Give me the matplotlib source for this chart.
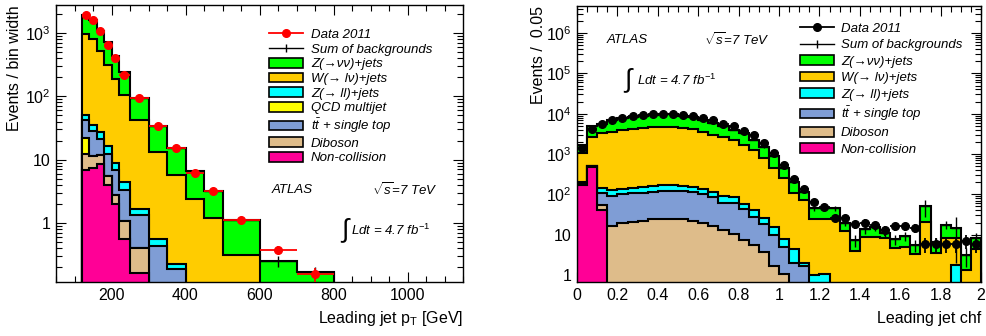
import numpy as np
import matplotlib
matplotlib.use('Agg')
import matplotlib.pyplot as plt
from matplotlib.patches import Patch
from matplotlib.lines import Line2D
from matplotlib.ticker import FuncFormatter, LogLocator, MultipleLocator, NullFormatter

plt.rcParams['font.family'] = ['Liberation Sans', 'DejaVu Sans']
plt.rcParams['mathtext.fontset'] = 'custom'
plt.rcParams['mathtext.rm'] = 'Liberation Sans'
plt.rcParams['mathtext.it'] = 'Liberation Sans:italic'
plt.rcParams['mathtext.sf'] = 'Liberation Sans'

# ---------------- left panel: leading jet pT (events / bin width) ----------------
pt_edges = [120, 140, 160, 180, 200, 220, 250, 300, 350, 400, 450, 500, 600, 700, 800]
pt_noncoll = [6.95, 7.4, 8.55, 4.0, 2.0, 0.55, 0.16, 0, 0, 0, 0, 0, 0, 0]
pt_diboson = [5.35, 3.9, 3.35, 1.5, 0.8, 0.51, 0.24, 0, 0, 0, 0, 0, 0, 0]
pt_qcd = [9.7, 0.3, 0.1, 0, 0, 0, 0, 0, 0, 0, 0, 0, 0, 0]
pt_ttbar = [20.8, 17.1, 9.5, 6.9, 4.0, 2.22, 0.95, 0.44, 0.19, 0.02, 0, 0, 0, 0]
pt_zll = [8.6, 7.0, 5.5, 3.8, 2.1, 1.12, 0.31, 0.12, 0.035, 0, 0, 0, 0, 0]
pt_wlnu = [914, 769, 499, 296, 181, 101.6, 41.3, 12.8, 5.6, 2.34, 1.2, 0.316, 0.05, 0.02]
pt_znn = [985, 815, 562, 410, 248, 134, 52, 20.2, 9.2, 4.16, 1.96, 0.78, 0.2, 0.15]
pt_bkg_err = [20, 18, 14, 11, 8, 5, 2, 1, 0.6, 0.3, 0.2, 0.08, 0.05, 0.03]
pt_data = [1900, 1585, 1063, 655, 403, 220, 93, 33.6, 15.1, 6.15, 3.16, 1.1, 0.38, 0.158]
pt_data_err = [10, 9, 7, 6, 4.5, 2.7, 1.4, 0.8, 0.55, 0.35, 0.25, 0.1, 0.06, 0.04]

# ---------------- right panel: leading jet chf (events / 0.05) ----------------
chf_edges = np.round(np.arange(0, 2.0001, 0.05), 2)
chf_noncoll = [172, 490, 41] + [0] * 37
chf_diboson = [6, 5, 14, 16.8, 19.2, 21, 22.4, 24, 24, 24.5, 24.6, 22.4, 19.2, 16.5, 13.1,
               10.2, 7.4, 5.6, 3.8, 1.7, 1.06] + [0] * 19
chf_ttbar = [17, 8, 52, 76, 81, 86, 88, 93, 98, 99.5, 99.4, 94.6, 83.8, 71.5, 49.5, 49.8,
             35.4, 22.4, 14.7, 8.1, 3.94, 1.95, 1.7] + [0] * 17
chf_zll = [10, 7, 35, 36, 34, 40, 46, 45, 48, 48, 38, 33, 31, 29, 29.4, 25, 15.2, 12, 7,
           6.1, 2.7, 2.4, 0.25, 1.0, 1.06] + [0] * 12 + [1.77, 0, 0]
chf_wlnu = [845, 2120, 3158, 3361, 3736, 4023, 4224, 4408, 4400, 4398, 4218, 4020, 3316,
            2883, 2538, 2165, 1642, 1190, 764, 429, 243, 106.6, 71, 23, 22.9, 24, 12, 4.0,
            9.0, 8.7, 8.2, 4.6, 5.0, 3.3, 21, 3.6, 8.2, 6.7, 1.3, 4.4]
chf_znn = [580, 2250, 2340, 3310, 3930, 4100, 4520, 4830, 5030, 5030, 4620, 4030, 3550,
           2900, 2270, 1750, 1600, 1020, 690, 425, 194, 97, 44, 21, 21, 21, 8, 3.4, 4.5,
           7.2, 2.6, 3.1, 4.3, 2.3, 29, 2.9, 9.3, 6.0, 1.8, 3.8]
chf_bkg_err = [30, 50, 55, 60, 65, 65, 70, 70, 70, 70, 70, 65, 60, 55, 50, 45, 40, 35, 28,
               20, 15, 10, 8, 6, 6, 6, 4, 2.5, 3, 3.5, 2.5, 2, 2.5, 1.8, 23, 2, 4, 12.5,
               1.5, 2.5]
chf_data = [1400, 4170, 5630, 6810, 7780, 8910, 9440, 10000, 10000, 10000, 9440, 8910,
            7780, 6810, 5630, 4840, 3640, 3020, 1870, 1050, 540, 240, 134, 66, 49, 26, 26,
            18, 20, 17, 13, 16, 16, 15, 6, 6, 6, 6, 7, 6]
chf_data_err = [37, 65, 75, 82, 88, 94, 97, 100, 100, 100, 97, 94, 88, 82, 75, 70, 60, 55,
                43, 32, 23, 15.5, 11.6, 8.1, 7, 5.1, 5.1, 4.2, 4.5, 4.1, 3.6, 4, 4, 3.9,
                2.45, 2.45, 2.45, 2.45, 2.6, 2.45]

col = {'znn': '#00ff00', 'wlnu': '#ffcc00', 'zll': '#00ffff', 'qcd': '#ffff00',
       'ttbar': '#7f9dd5', 'diboson': '#debc8a', 'noncoll': '#ff0096'}
names = {'znn': 'Z(→νν)+jets', 'wlnu': 'W(→ lν)+jets', 'zll': 'Z(→ ll)+jets',
         'qcd': 'QCD multijet', 'ttbar': r'$t\bar{t}$ + single top',
         'diboson': 'Diboson', 'noncoll': 'Non-collision'}
legend_order = ['znn', 'wlnu', 'zll', 'qcd', 'ttbar', 'diboson', 'noncoll']


def log_label(v, pos):
    if v <= 0:
        return ''
    n = int(round(np.log10(v)))
    if n == 0:
        return '1'
    if n == 1:
        return '10'
    return r'$10^{%d}$' % n


def draw_panel(ax, edges, comps, bkg_err, data, data_err, dcol, ylim):
    edges = np.asarray(edges, float)
    centers = 0.5 * (edges[1:] + edges[:-1])
    halfw = 0.5 * (edges[1:] - edges[:-1])
    floor = ylim[0] * 1e-3
    keys = [k for k, _ in comps]
    cum = np.cumsum(np.vstack([np.asarray(v, float) for _, v in comps]), axis=0)
    # draw cumulative histograms from the top one down, as ROOT's THStack does
    for i in reversed(range(len(keys))):
        vals = np.where(cum[i] > 0, cum[i], floor)
        ax.stairs(vals, edges, baseline=floor, fill=True, facecolor=col[keys[i]],
                  edgecolor='black', linewidth=1.5, zorder=2)
    ax.errorbar(centers, cum[-1], xerr=halfw, yerr=bkg_err, fmt='none',
                ecolor='black', elinewidth=1.0, zorder=3)
    ax.errorbar(centers, data, xerr=halfw, yerr=data_err, fmt='o', color=dcol,
                ms=5.5, elinewidth=1.3, capsize=0, zorder=4)
    ax.set_yscale('log')
    ax.set_ylim(*ylim)
    ax.yaxis.set_major_locator(LogLocator(base=10, numticks=20))
    ax.yaxis.set_minor_locator(LogLocator(base=10, subs=np.arange(2, 10), numticks=20))
    ax.yaxis.set_major_formatter(FuncFormatter(log_label))
    ax.yaxis.set_minor_formatter(NullFormatter())
    ax.tick_params(which='both', direction='in', top=True, right=True, width=0.8)
    ax.tick_params(which='major', length=7, labelsize=11.5, pad=4)
    ax.tick_params(which='minor', length=4)
    for s in ax.spines.values():
        s.set_linewidth(1.0)
    handles = [Line2D([], [], color=dcol, marker='o', ms=5.5, lw=1.3),
               Line2D([], [], color='black', marker='|', ms=6, mew=1.0, lw=1.0)]
    labels = ['Data 2011', 'Sum of backgrounds']
    for k in legend_order:
        if k in keys:
            handles.append(Patch(facecolor=col[k], edgecolor='black', linewidth=1.2))
            labels.append(names[k])
    return handles, labels


fig = plt.figure(figsize=(9.86, 3.36), dpi=100)
axl = fig.add_axes([56 / 986, 54 / 336, 407 / 986, 277 / 336])
axr = fig.add_axes([577 / 986, 54 / 336, 404 / 986, 276 / 336])

# left
hl, ll = draw_panel(axl, pt_edges,
                    [('noncoll', pt_noncoll), ('diboson', pt_diboson), ('qcd', pt_qcd),
                     ('ttbar', pt_ttbar), ('zll', pt_zll), ('wlnu', pt_wlnu),
                     ('znn', pt_znn)],
                    pt_bkg_err, pt_data, pt_data_err, 'red', (0.117, 2770))
axl.set_xlim(50, 1150)
axl.xaxis.set_major_locator(MultipleLocator(200))
axl.xaxis.set_minor_locator(MultipleLocator(50))
axl.set_xlabel(r'Leading jet p$_{\rm T}$ [GeV]', fontsize=11.5, loc='right')
axl.xaxis.set_label_coords(1.0, -0.148)
axl.xaxis.label.set_va('baseline')
axl.set_ylabel('Events / bin width', fontsize=11.5, loc='top')
axl.yaxis.set_label_coords(-0.083, 1.0)
axl.legend(hl, ll, loc='upper left', bbox_to_anchor=(0.523, 0.915), frameon=False,
           prop={'style': 'italic', 'size': 9.5}, handlelength=2.6, handleheight=0.75,
           handletextpad=0.6, labelspacing=0.17, borderpad=0, borderaxespad=0)
axl.text(0.53, 0.332, 'ATLAS', transform=axl.transAxes, style='italic', fontsize=9.5,
         va='center')
axl.text(0.776, 0.332, r'$\sqrt{s}$=7 TeV', transform=axl.transAxes, style='italic',
         fontsize=9.5, va='center')
axl.text(0.697, 0.184, r'$\int$', transform=axl.transAxes, fontsize=19, va='center')
axl.text(0.724, 0.188, r'Ldt = 4.7 $fb^{-1}$', transform=axl.transAxes, style='italic',
         fontsize=9.5, va='center')

# right
hr, lr = draw_panel(axr, chf_edges,
                    [('noncoll', chf_noncoll), ('diboson', chf_diboson),
                     ('ttbar', chf_ttbar), ('zll', chf_zll), ('wlnu', chf_wlnu),
                     ('znn', chf_znn)],
                    chf_bkg_err, chf_data, chf_data_err, 'black', (0.67, 4.7e6))
axr.set_xlim(0, 2)
axr.xaxis.set_major_locator(MultipleLocator(0.2))
axr.xaxis.set_minor_locator(MultipleLocator(0.05))
axr.xaxis.set_major_formatter(FuncFormatter(lambda v, p: '%g' % round(v, 2)))
axr.set_xlabel('Leading jet chf', fontsize=11.5, loc='right')
axr.xaxis.set_label_coords(1.0, -0.148)
axr.xaxis.label.set_va('baseline')
axr.set_ylabel('Events /  0.05', fontsize=11.5, loc='top')
axr.yaxis.set_label_coords(-0.077, 1.0)
axr.legend(hr, lr, loc='upper left', bbox_to_anchor=(0.552, 0.94), frameon=False,
           prop={'style': 'italic', 'size': 9.5}, handlelength=2.6, handleheight=0.75,
           handletextpad=0.5, labelspacing=0.3, borderpad=0, borderaxespad=0)
axr.text(0.074, 0.877, 'ATLAS', transform=axr.transAxes, style='italic', fontsize=9.5,
         va='center')
axr.text(0.314, 0.877, r'$\sqrt{s}$=7 TeV', transform=axr.transAxes, style='italic',
         fontsize=9.5, va='center')
axr.text(0.114, 0.73, r'$\int$', transform=axr.transAxes, fontsize=19, va='center')
axr.text(0.148, 0.732, r'Ldt = 4.7 $fb^{-1}$', transform=axr.transAxes, style='italic',
         fontsize=9.5, va='center')

fig.savefig('out.png', dpi=100)
